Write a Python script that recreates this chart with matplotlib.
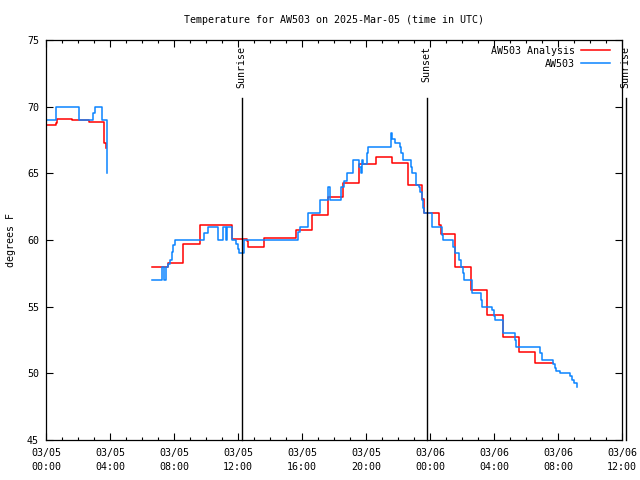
import numpy as np
import matplotlib
matplotlib.use("Agg")
import matplotlib.pyplot as plt

plt.rcParams['font.family'] = ['DejaVu Sans Mono']

# Observations (hours since 2025-03-05 00:00 UTC, deg F)
obs_hours = [0.0, 0.6, 2.04, 2.96, 3.06, 3.48, 3.8, np.nan,
             6.625, 7.25, 7.375, 7.5, 7.65, 7.75, 7.85, 7.96, 8.06, 9.9, 10.1,
             10.77, 11.04, 11.25, 11.3, 11.6, 11.9, 12.0, 12.08, 12.375,
             15.77, 15.85, 16.4, 17.1, 17.65, 17.72, 18.44, 18.6, 18.8, 19.17,
             19.56, 19.66, 19.72, 19.8, 20.08, 20.15, 21.56, 21.62, 21.8, 22.1,
             22.2, 22.3, 22.8, 22.9, 23.1, 23.3, 23.4, 23.5, 23.58, 23.64, 24.1,
             24.73, 24.83, 25.46, 25.56, 25.83, 25.92, 26.04, 26.15, 26.6, 27.17,
             27.23, 27.9, 28.0, 28.06, 28.58, 29.3, 29.4, 30.9, 31.0, 31.7, 31.8,
             31.9, 32.1, 32.75, 32.85, 33.0, 33.2]
obs_temp = [69, 70, 69, 69.5, 70, 69, 65, np.nan,
            57, 58, 57, 58, 58.2, 58.5, 59.1, 59.6, 60, 60.5, 61,
            60, 61, 60, 61, 60, 59.7, 59.3, 59.0, 60,
            60.6, 61, 62, 63, 64, 63, 64, 64.4, 65, 66,
            65.5, 65, 66, 65.7, 66.5, 67, 68, 67.6, 67.3, 67,
            66.5, 66, 65.5, 65, 64.1, 64, 63.6, 63, 62.4, 62, 61,
            60.4, 60, 59.5, 59, 58.5, 58, 57.5, 57, 56, 55.5,
            55, 54.75, 54.3, 54, 53, 52.5, 52, 51.5, 51, 50.7, 50.4,
            50.2, 50, 49.8, 49.5, 49.3, 48.95]

# Analysis
ana_hours = [0.0, 0.6, 0.7, 1.6, 2.67, 3.6, 3.72, 3.78, np.nan,
             6.625, 7.625, 8.58, 9.625, 11.6, 12.54, 12.65, 13.6, 15.6, 16.6,
             17.6, 18.58, 19.58, 20.6, 21.6, 22.6, 23.48, 23.6, 24.58, 24.67,
             25.58, 26.58, 27.58, 28.58, 29.58, 30.56, 31.7]
ana_temp = [68.6, 68.8, 69.1, 69.0, 68.85, 67.3, 66.9, 66.9, np.nan,
            58.0, 58.25, 59.7, 61.1, 60.1, 59.9, 59.45, 60.15, 60.75, 61.9,
            63.2, 64.25, 65.7, 66.2, 65.8, 64.1, 63.1, 62.0, 61.1, 60.45,
            57.95, 56.25, 54.4, 52.75, 51.6, 50.8, 50.8]

events = ["Sunrise", "Sunset", "Sunrise"]
event_hours = [12.25, 23.81, 36.25]

xtick_hours = [0, 4, 8, 12, 16, 20, 24, 28, 32, 36]
xtick_labels = ["03/05\n00:00", "03/05\n04:00", "03/05\n08:00", "03/05\n12:00",
                "03/05\n16:00", "03/05\n20:00", "03/06\n00:00", "03/06\n04:00",
                "03/06\n08:00", "03/06\n12:00"]
ytick_vals = [45, 50, 55, 60, 65, 70, 75]

fs = 7.2
fig = plt.figure(figsize=(6.4, 4.8), dpi=100)
ax = fig.add_axes([46/640, 1-440/480, 576/640, 400/480])

ax.plot(ana_hours, ana_temp, drawstyle='steps-post', color='#ff0000', lw=1.1,
        label='AW503 Analysis')
ax.plot(obs_hours, obs_temp, drawstyle='steps-post', color='#0a84ff', lw=1.1,
        label='AW503')

ax.set_xlim(0, 36)
ax.set_ylim(45, 75)

line_top = 70.65
for name, h in zip(events, event_hours):
    ax.plot([h, h], [45, line_top], color='black', lw=1.0, clip_on=False)
    ax.text(h - 0.06, 74.55, name, rotation=90, ha='center', va='top',
            fontsize=fs, clip_on=False)

ax.set_xticks(xtick_hours)
ax.set_xticklabels(xtick_labels, fontsize=fs, linespacing=1.5)
ax.set_xticks(np.arange(0, 37, 1), minor=True)
ax.set_yticks(ytick_vals)
ax.set_yticklabels([str(v) for v in ytick_vals], fontsize=fs)
ax.tick_params(which='both', direction='in', top=True, right=True, width=0.8)
ax.tick_params(which='major', length=5, pad=5)
ax.tick_params(axis='x', which='major', pad=6)
ax.tick_params(which='minor', length=2.5)
ax.tick_params(axis='y', which='minor', left=False, right=False)
for s in ax.spines.values():
    s.set_linewidth(0.9)

ax.set_ylabel('degrees F', fontsize=fs, labelpad=8)
ax.set_title('Temperature for AW503 on 2025-Mar-05 (time in UTC)', fontsize=fs, pad=12.4)

leg = ax.legend(loc='upper right', frameon=False, markerfirst=False, fontsize=fs,
                handlelength=2.9, handletextpad=0.6, borderaxespad=0.2,
                labelspacing=0.3, bbox_to_anchor=(0.99, 1.0))
for t in leg.get_texts():
    t.set_ha('right')

fig.savefig('out.png', dpi=100)
